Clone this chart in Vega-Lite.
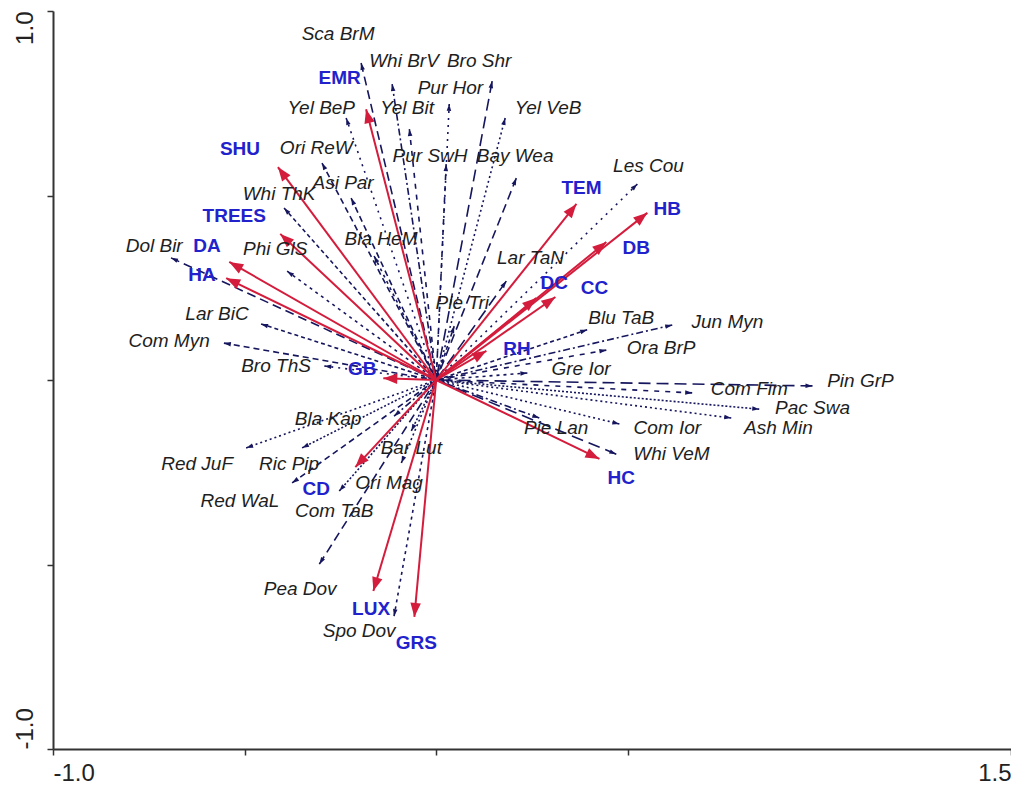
{
  "$schema": "https://vega.github.io/schema/vega-lite/v6.json",
  "width": 958,
  "height": 738,
  "autosize": {"type": "none"},
  "padding": {"left": 53, "top": 11, "right": 0, "bottom": 40},
  "background": "white",
  "config": {"view": {"stroke": null}, "font": "Liberation Sans"},
  "datasets": {
    "env": [
      {"name": "EMR", "x": -0.183, "y": 0.734, "lx": -0.252, "ly": 0.818},
      {"name": "SHU", "x": -0.413, "y": 0.577, "lx": -0.512, "ly": 0.626},
      {"name": "TREES", "x": -0.407, "y": 0.396, "lx": -0.527, "ly": 0.444},
      {"name": "DA", "x": -0.540, "y": 0.320, "lx": -0.598, "ly": 0.363},
      {"name": "HA", "x": -0.548, "y": 0.276, "lx": -0.611, "ly": 0.285},
      {"name": "GB", "x": -0.138, "y": 0.005, "lx": -0.193, "ly": 0.030},
      {"name": "CD", "x": -0.211, "y": -0.236, "lx": -0.313, "ly": -0.295},
      {"name": "LUX", "x": -0.164, "y": -0.572, "lx": -0.170, "ly": -0.621},
      {"name": "GRS", "x": -0.057, "y": -0.642, "lx": -0.052, "ly": -0.713},
      {"name": "HC", "x": 0.426, "y": -0.214, "lx": 0.483, "ly": -0.266},
      {"name": "RH", "x": 0.131, "y": 0.079, "lx": 0.211, "ly": 0.084},
      {"name": "DC", "x": 0.261, "y": 0.222, "lx": 0.308, "ly": 0.263},
      {"name": "CC", "x": 0.311, "y": 0.225, "lx": 0.413, "ly": 0.249},
      {"name": "DB", "x": 0.444, "y": 0.374, "lx": 0.522, "ly": 0.358},
      {"name": "HB", "x": 0.551, "y": 0.453, "lx": 0.603, "ly": 0.463},
      {"name": "TEM", "x": 0.366, "y": 0.477, "lx": 0.379, "ly": 0.520}
    ],
    "sp": [
      {"name": "Sca BrM", "x": -0.196, "y": 0.859, "lx": -0.256, "ly": 0.938},
      {"name": "Whi BrV", "x": -0.115, "y": 0.802, "lx": -0.084, "ly": 0.864},
      {"name": "Bro Shr", "x": 0.146, "y": 0.810, "lx": 0.112, "ly": 0.864},
      {"name": "Pur Hor", "x": 0.034, "y": 0.748, "lx": 0.037, "ly": 0.791},
      {"name": "Yel BeP", "x": -0.235, "y": 0.710, "lx": -0.300, "ly": 0.737},
      {"name": "Yel Bit", "x": -0.070, "y": 0.680, "lx": -0.076, "ly": 0.737},
      {"name": "Yel VeB", "x": 0.180, "y": 0.710, "lx": 0.292, "ly": 0.737},
      {"name": "Ori ReW", "x": -0.298, "y": 0.588, "lx": -0.313, "ly": 0.629},
      {"name": "Pur SwH", "x": 0.026, "y": 0.585, "lx": -0.016, "ly": 0.607},
      {"name": "Bay Wea", "x": 0.209, "y": 0.547, "lx": 0.206, "ly": 0.607},
      {"name": "Asi Par", "x": -0.222, "y": 0.493, "lx": -0.243, "ly": 0.534},
      {"name": "Whi ThK", "x": -0.397, "y": 0.466, "lx": -0.410, "ly": 0.504},
      {"name": "Bla HeM", "x": -0.162, "y": 0.336, "lx": -0.144, "ly": 0.382},
      {"name": "Phi GlS", "x": -0.389, "y": 0.295, "lx": -0.420, "ly": 0.355},
      {"name": "Dol Bir", "x": -0.692, "y": 0.331, "lx": -0.736, "ly": 0.363},
      {"name": "Les Cou", "x": 0.525, "y": 0.531, "lx": 0.554, "ly": 0.580},
      {"name": "Lar TaN", "x": 0.183, "y": 0.268, "lx": 0.246, "ly": 0.331},
      {"name": "Pie Tri", "x": 0.047, "y": 0.146, "lx": 0.068, "ly": 0.209},
      {"name": "Lar BiC", "x": -0.457, "y": 0.152, "lx": -0.572, "ly": 0.179},
      {"name": "Com Myn", "x": -0.554, "y": 0.100, "lx": -0.697, "ly": 0.106},
      {"name": "Bro ThS", "x": -0.292, "y": 0.038, "lx": -0.418, "ly": 0.038},
      {"name": "Blu TaB", "x": 0.394, "y": 0.136, "lx": 0.483, "ly": 0.168},
      {"name": "Jun Myn", "x": 0.616, "y": 0.149, "lx": 0.760, "ly": 0.157},
      {"name": "Ora BrP", "x": 0.444, "y": 0.081, "lx": 0.587, "ly": 0.087},
      {"name": "Gre Ior", "x": 0.238, "y": 0.019, "lx": 0.378, "ly": 0.030},
      {"name": "Pin GrP", "x": 0.982, "y": -0.016, "lx": 1.107, "ly": -0.003},
      {"name": "Com Fim", "x": 0.668, "y": -0.035, "lx": 0.817, "ly": -0.024},
      {"name": "Pac Swa", "x": 0.843, "y": -0.079, "lx": 0.982, "ly": -0.076},
      {"name": "Ash Min", "x": 0.770, "y": -0.103, "lx": 0.893, "ly": -0.130},
      {"name": "Com Ior", "x": 0.478, "y": -0.119, "lx": 0.603, "ly": -0.130},
      {"name": "Whi VeM", "x": 0.470, "y": -0.201, "lx": 0.614, "ly": -0.201},
      {"name": "Pie Lan", "x": 0.269, "y": -0.103, "lx": 0.313, "ly": -0.130},
      {"name": "Bla Kap", "x": -0.110, "y": -0.098, "lx": -0.282, "ly": -0.106},
      {"name": "Red JuF", "x": -0.496, "y": -0.184, "lx": -0.624, "ly": -0.228},
      {"name": "Ric Pip", "x": -0.350, "y": -0.184, "lx": -0.384, "ly": -0.228},
      {"name": "Bar Lut", "x": -0.065, "y": -0.138, "lx": -0.065, "ly": -0.184},
      {"name": "Ori Mag", "x": -0.091, "y": -0.225, "lx": -0.123, "ly": -0.279},
      {"name": "Red WaL", "x": -0.376, "y": -0.279, "lx": -0.512, "ly": -0.328},
      {"name": "Com TaB", "x": -0.253, "y": -0.301, "lx": -0.266, "ly": -0.355},
      {"name": "Pea Dov", "x": -0.305, "y": -0.499, "lx": -0.355, "ly": -0.566},
      {"name": "Spo Dov", "x": -0.110, "y": -0.640, "lx": -0.201, "ly": -0.680}
    ]
  },
  "encoding": {
    "x": {
      "type": "quantitative",
      "scale": {"domain": [-1, 1.5], "nice": false, "zero": false},
      "axis": {
        "title": null, "grid": false,
        "values": [-1, -0.5, 0, 0.5, 1.5],
        "labelExpr": "datum.value == -1 ? '-1.0' : (datum.value == 1.5 ? '1.5' : '')",
        "labelFlush": true, "labelOverlap": false,
        "labelFontSize": 24, "labelColor": "#222", "labelPadding": 6,
        "domainColor": "#333", "domainWidth": 2,
        "tickColor": "#333", "tickWidth": 1.5, "tickSize": 6
      }
    },
    "y": {
      "type": "quantitative",
      "scale": {"domain": [-1, 1], "nice": false, "zero": false},
      "axis": {
        "title": null, "grid": false,
        "values": [-1, -0.5, 0, 0.5, 1],
        "labelExpr": "datum.value == 1 ? '1.0' : (datum.value == -1 ? '-1.0' : '')",
        "labelAngle": 270, "labelFlush": false, "labelOverlap": false,
        "labelAlign": {"condition": {"test": "datum.value < 0", "value": "left"}, "value": "right"},
        "labelBaseline": "bottom",
        "labelFontSize": 24, "labelColor": "#222", "labelPadding": 10,
        "domainColor": "#333", "domainWidth": 2,
        "tickColor": "#333", "tickWidth": 1.5, "tickSize": 6
      }
    }
  },
  "layer": [
    {
      "data": {"name": "sp"},
      "mark": {"type": "rule", "color": "#16165e", "strokeWidth": 1.6},
      "encoding": {
        "x": {"field": "x", "type": "quantitative"},
        "y": {"field": "y", "type": "quantitative"},
        "x2": {"datum": 0},
        "y2": {"datum": 0},
        "strokeDash": {
          "field": "name", "type": "nominal", "legend": null,
          "scale": {"range": [[2, 3], [6, 4], [2, 2], [9, 5], [3, 4], [7, 3, 2, 3], [4, 3], [12, 6], [2, 5], [5, 6]]}
        }
      }
    },
    {
      "data": {"name": "sp"},
      "transform": [{"calculate": "atan2(datum.x * 383, datum.y * 369) * 180 / PI", "as": "ang"}],
      "mark": {"type": "point", "shape": "M0,0L0.65,2L-0.65,2Z", "filled": true, "color": "#16165e", "opacity": 1, "size": 49},
      "encoding": {
        "x": {"field": "x", "type": "quantitative"},
        "y": {"field": "y", "type": "quantitative"},
        "angle": {"field": "ang", "type": "quantitative", "scale": null}
      }
    },
    {
      "data": {"name": "env"},
      "mark": {"type": "rule", "color": "#d41c3c", "strokeWidth": 2},
      "encoding": {
        "x": {"field": "x", "type": "quantitative"},
        "y": {"field": "y", "type": "quantitative"},
        "x2": {"datum": 0},
        "y2": {"datum": 0}
      }
    },
    {
      "data": {"name": "env"},
      "transform": [{"calculate": "atan2(datum.x * 383, datum.y * 369) * 180 / PI", "as": "ang"}],
      "mark": {"type": "point", "shape": "M0,0L0.75,2L-0.75,2Z", "filled": true, "color": "#d41c3c", "opacity": 1, "size": 196},
      "encoding": {
        "x": {"field": "x", "type": "quantitative"},
        "y": {"field": "y", "type": "quantitative"},
        "angle": {"field": "ang", "type": "quantitative", "scale": null}
      }
    },
    {
      "data": {"name": "sp"},
      "mark": {"type": "text", "fontStyle": "italic", "fontSize": 19, "color": "#1e1e1e", "align": "center", "baseline": "middle"},
      "encoding": {
        "x": {"field": "lx", "type": "quantitative"},
        "y": {"field": "ly", "type": "quantitative"},
        "text": {"field": "name"}
      }
    },
    {
      "data": {"name": "env"},
      "mark": {"type": "text", "fontWeight": "bold", "fontSize": 19, "color": "#2222cc", "align": "center", "baseline": "middle"},
      "encoding": {
        "x": {"field": "lx", "type": "quantitative"},
        "y": {"field": "ly", "type": "quantitative"},
        "text": {"field": "name"}
      }
    }
  ]
}
